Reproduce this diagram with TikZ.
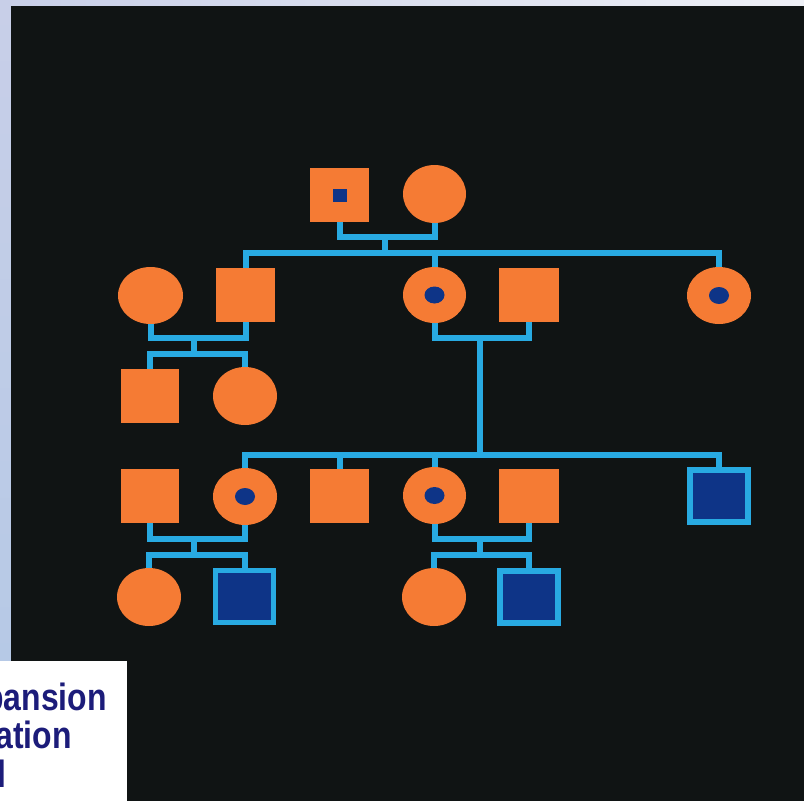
\documentclass[tikz,border=0pt]{standalone}
\usepackage{fontspec}
\newfontfamily\labelfont{Liberation Sans}
\usetikzlibrary{shapes.geometric}
\definecolor{ped}{RGB}{245,123,52}
\definecolor{cyanline}{RGB}{40,170,226}
\definecolor{navyfill}{RGB}{14,52,135}
\definecolor{panel}{RGB}{16,20,20}
\definecolor{lav}{RGB}{200,207,232}
\definecolor{lavlow}{RGB}{182,201,230}
\definecolor{paleright}{RGB}{238,240,246}
\definecolor{txtnavy}{RGB}{28,28,122}
\pgfdeclarelayer{back}
\pgfdeclarelayer{lines}
\pgfsetlayers{back,lines,main}
\tikzset{
  male/.style={rectangle, fill=ped, minimum width=59pt, minimum height=54pt, inner sep=0pt, outer sep=0pt},
  female/.style={ellipse, fill=ped, minimum width=64pt, minimum height=57pt, inner sep=0pt, outer sep=0pt},
  carrier/.style={female, path picture={\fill[navyfill] (path picture bounding box.center) ellipse (10pt and 8.5pt);}},
  affected/.style={rectangle, fill=navyfill, draw=cyanline, line width=5.5pt, minimum width=58pt, minimum height=52pt, inner sep=0pt, outer sep=0pt},
  link/.style={draw=cyanline, line width=6pt},
  captxt/.style={anchor=base east, inner sep=0pt, text=txtnavy, font=\labelfont\bfseries\fontsize{38}{40}\selectfont}
}
\begin{document}
\begin{tikzpicture}[x=1pt,y=-1pt]
\useasboundingbox (0,0) rectangle (804,801);
\begin{pgfonlayer}{back}
  \fill[lav] (0,0) rectangle (804,801);
  \shade[left color=lav, right color=paleright] (0,0) rectangle (804,6);
  \shade[top color=lav, bottom color=lavlow] (0,6) rectangle (11,661);
  \fill[panel] (11,6) rectangle (804,801);
  \fill[white] (0,661) rectangle (127,801);
\end{pgfonlayer}

% caption fragment
\begin{scope}
  \clip (0,661) rectangle (127,801);
  \node[captxt] (t1) at (107,710) {\scalebox{0.84}[1]{pansion}};
  \node[captxt] (t2) at (72,748) {\scalebox{0.84}[1]{ation}};
  \node[captxt] (t3) at (7,787) {\scalebox{0.84}[1]{l}};
\end{scope}

% generation 1
\node[male, path picture={\fill[navyfill] ([shift={(-7pt,-6.5pt)}]path picture bounding box.center) rectangle ++(14pt,13pt);}] (g1m) at (339.5,195) {};
\node[female, minimum width=63pt, minimum height=58pt] (g1f) at (434.5,194) {};

% generation 2
\node[female, minimum width=65pt] (a1) at (150.5,295.5) {};
\node[male] (a2) at (245.5,295) {};
\node[carrier, minimum width=63pt, minimum height=56pt] (b1) at (434.5,295) {};
\node[male, minimum width=60pt] (b2) at (529,295) {};
\node[carrier] (c1) at (719,295.5) {};

% generation 3, family a
\node[male, minimum width=58pt] (a3) at (150,396) {};
\node[female, minimum height=58pt] (a4) at (245,396) {};

% generation 3, family b
\node[male, minimum width=58pt] (d1) at (150,496) {};
\node[carrier] (d2) at (245,496.5) {};
\node[male] (d3) at (339.5,496) {};
\node[carrier, minimum width=63pt] (e1) at (434.5,495.5) {};
\node[male, minimum width=60pt] (e2) at (529,496) {};
\node[affected] (f1) at (719,496) {};

% generation 4
\node[female, minimum height=58pt] (g1) at (149,597) {};
\node[affected] (g2) at (244.5,596.5) {};
\node[female, minimum height=58pt] (h1) at (434,597) {};
\node[affected] (h2) at (529,597) {};

% junction coordinates
\coordinate (c0) at (385,237);
\coordinate (s0) at (385,253);
\coordinate (ca) at (194,338);
\coordinate (sa) at (194,354);
\coordinate (cb) at (480,338);
\coordinate (sb) at (480,455);
\coordinate (cd) at (194,539);
\coordinate (sd) at (194,555);
\coordinate (ce) at (480,539);
\coordinate (se) at (480,555);

\begin{pgfonlayer}{lines}
  % generation 1
  \draw[link] (g1m.center) |- (c0) -| (g1f.center);
  \draw[link] (c0) -- (s0);
  \draw[link] (a2.center) |- (s0) -| (c1.center);
  \draw[link] (b1.center) -- (b1 |- s0);
  % family a
  \draw[link] (a1.center) |- (ca) -| (a2.center);
  \draw[link] (ca) -- (sa);
  \draw[link] (a3.center) |- (sa) -| (a4.center);
  % family b
  \draw[link] (b1.center) |- (cb) -| (b2.center);
  \draw[link] (cb) -- (sb);
  \draw[link] (d2.center) |- (sb) -| (f1.center);
  \draw[link] (d3.center) -- (d3 |- sb);
  \draw[link] (e1.center) -- (e1 |- sb);
  % family d
  \draw[link] (d1.center) |- (cd) -| (d2.center);
  \draw[link] (cd) -- (sd);
  \draw[link] (g1.center) |- (sd) -| (g2.center);
  % family e
  \draw[link] (e1.center) |- (ce) -| (e2.center);
  \draw[link] (ce) -- (se);
  \draw[link] (h1.center) |- (se) -| (h2.center);
\end{pgfonlayer}
\end{tikzpicture}
\end{document}
